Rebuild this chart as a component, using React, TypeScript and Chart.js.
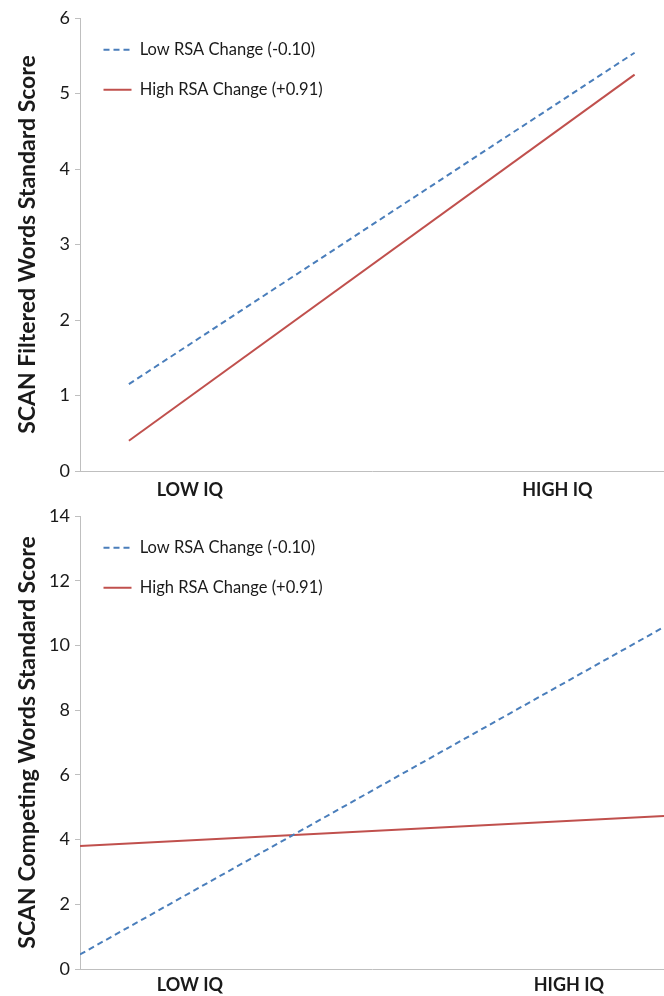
import React, { useEffect, useRef } from "react";
import { Chart, registerables } from "chart.js";

Chart.register(...registerables);

// Category labels and their positions on the x axis (category units)
const categories = ["LOW IQ", "HIGH IQ"];
const categoryPositions = [0, 1];

const seriesNames = ["Low RSA Change (-0.10)", "High RSA Change (+0.91)"];

// Top chart: SCAN Filtered Words
const topTitle = "SCAN Filtered Words Standard Score";
const topX = [-0.166, 1.21];
const topLowRsa = [1.15, 5.54];
const topHighRsa = [0.4, 5.25];
const topXRange = [-0.299, 1.29];
const topYTicks = [0, 1, 2, 3, 4, 5, 6];

// Bottom chart: SCAN Competing Words
const bottomTitle = "SCAN Competing Words Standard Score";
const bottomX = [-0.29, 1.251];
const bottomLowRsa = [0.45, 10.57];
const bottomHighRsa = [3.8, 4.73];
const bottomXRange = [-0.29, 1.251];
const bottomYTicks = [0, 2, 4, 6, 8, 10, 12, 14];

const FONT = "Lato, 'Open Sans', sans-serif";
const BLUE = "#4a7ebb";
const RED = "#c0504d";
const AXIS = "#bfbfbf";
const TEXT = "#1a1a1a";
const DASH = [6, 4];

const legendShift = {
  id: "legendShift",
  afterLayout(chart: any) {
    const l = chart.legend;
    if (!l) return;
    const d = chart.chartArea.top - l.top;
    l.top += d;
    l.bottom += d;
  },
};

type PanelProps = {
  title: string;
  xs: number[];
  low: number[];
  high: number[];
  xRange: number[];
  yTicks: number[];
  padTop: number;
  xAxisHeight: number;
  xLabelPad: number;
  height: number;
};

function Panel(p: PanelProps) {
  const ref = useRef<HTMLCanvasElement | null>(null);
  useEffect(() => {
    if (!ref.current) return;
    const pts = (ys: number[]) => ys.map((y, i) => ({ x: p.xs[i], y }));
    const chart = new Chart(ref.current, {
      type: "line",
      data: {
        datasets: [
          {
            label: seriesNames[0],
            data: pts(p.low),
            borderColor: BLUE,
            backgroundColor: BLUE,
            borderWidth: 2,
            borderDash: DASH,
            pointRadius: 0,
            tension: 0,
          },
          {
            label: seriesNames[1],
            data: pts(p.high),
            borderColor: RED,
            backgroundColor: RED,
            borderWidth: 2,
            pointRadius: 0,
            tension: 0,
          },
        ],
      },
      plugins: [legendShift],
      options: {
        animation: false,
        responsive: true,
        maintainAspectRatio: false,
        layout: { padding: { top: p.padTop, right: 0, left: 0, bottom: 0 } },
        plugins: {
          tooltip: { enabled: false },
          legend: {
            position: "chartArea",
            align: "start",
            labels: {
              usePointStyle: true,
              pointStyle: "line",
              pointStyleWidth: 28,
              padding: 23.5,
              color: TEXT,
              font: { family: FONT, size: 16.5 },
              generateLabels: (c: any) => {
                const items = Chart.defaults.plugins.legend.labels.generateLabels(c);
                return items.map((it: any) => {
                  const ds = c.data.datasets[it.datasetIndex];
                  return {
                    ...it,
                    lineDash: ds.borderDash || [],
                    strokeStyle: ds.borderColor,
                    lineWidth: 2,
                    pointStyle: "line",
                  };
                });
              },
            },
          },
        },
        scales: {
          x: {
            type: "linear",
            min: p.xRange[0],
            max: p.xRange[1],
            afterBuildTicks: (scale: any) => {
              scale.ticks = categoryPositions.map((v) => ({ value: v }));
            },
            afterFit: (scale: any) => {
              scale.height = p.xAxisHeight;
            },
            grid: { display: false, drawTicks: false },
            border: { display: true, color: AXIS, width: 1 },
            ticks: {
              autoSkip: false,
              maxRotation: 0,
              padding: p.xLabelPad,
              color: TEXT,
              font: { family: FONT, size: 18, weight: "bold" },
              callback: (value: any) => {
                const i = categoryPositions.indexOf(Number(value));
                return i >= 0 ? categories[i] : "";
              },
            },
          },
          y: {
            type: "linear",
            min: p.yTicks[0],
            max: p.yTicks[p.yTicks.length - 1],
            afterBuildTicks: (scale: any) => {
              scale.ticks = p.yTicks.map((v) => ({ value: v }));
            },
            afterFit: (scale: any) => {
              scale.width = 80;
            },
            grid: {
              drawOnChartArea: false,
              drawTicks: true,
              tickLength: 5,
              color: AXIS,
            },
            border: { display: true, color: AXIS, width: 1 },
            ticks: {
              padding: 5,
              color: TEXT,
              font: { family: FONT, size: 18 },
            },
            title: {
              display: true,
              text: p.title,
              color: TEXT,
              padding: { top: 14, bottom: 0 },
              font: { family: FONT, size: 23, weight: "bold" },
            },
          },
        },
      },
    } as any);
    return () => chart.destroy();
  }, []);
  return (
    <div style={{ position: "relative", width: 664, height: p.height }}>
      <canvas ref={ref} />
    </div>
  );
}

export default function App() {
  return (
    <div
      style={{
        position: "absolute",
        left: 0,
        top: 0,
        width: 664,
        height: 996,
        background: "#fff",
        overflow: "hidden",
      }}
    >
      <Panel
        title={topTitle}
        xs={topX}
        low={topLowRsa}
        high={topHighRsa}
        xRange={topXRange}
        yTicks={topYTicks}
        padTop={18}
        xAxisHeight={29}
        xLabelPad={8}
        height={500}
      />
      <Panel
        title={bottomTitle}
        xs={bottomX}
        low={bottomLowRsa}
        high={bottomHighRsa}
        xRange={bottomXRange}
        yTicks={bottomYTicks}
        padTop={16}
        xAxisHeight={27}
        xLabelPad={5}
        height={496}
      />
    </div>
  );
}
